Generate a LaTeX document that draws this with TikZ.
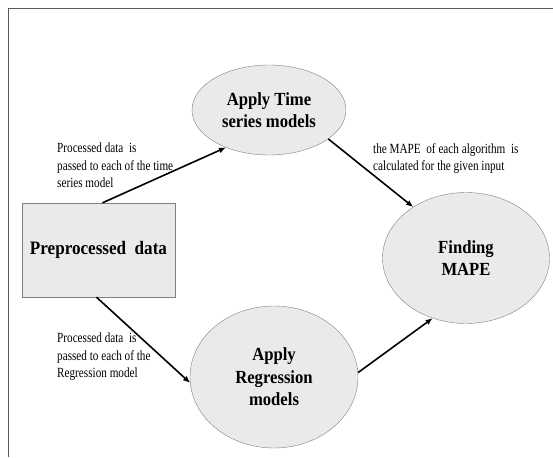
\documentclass[tikz,border=0pt]{standalone}
\usepackage{fontspec}
\usepackage{tikz}
\usetikzlibrary{shapes.geometric,arrows.meta,positioning}
\setmainfont{Liberation Serif}
\newfontfamily\notefont[FakeStretch=0.8]{Liberation Serif}
\newfontfamily\stepfont[FakeStretch=0.9]{Liberation Serif}
\definecolor{shapefill}{RGB}{232,234,236}
\definecolor{shapeline}{RGB}{128,128,128}
\definecolor{framegray}{RGB}{90,90,90}

\begin{document}
\begin{tikzpicture}[x=1pt, y=-1pt,
    proc/.style={rectangle, draw=shapeline, fill=shapefill, minimum width=153pt, minimum height=94pt, inner sep=0pt, font=\stepfont\bfseries\fontsize{19}{23}\selectfont},
    model/.style={ellipse, draw=shapeline, fill=shapefill, inner sep=0pt, align=center, font=\stepfont\bfseries\fontsize{18.5}{22.5}\selectfont},
    note/.style={anchor=north west, inner sep=0pt, align=left, font=\notefont\fontsize{14}{17.5}\selectfont},
    flow/.style={-{Latex[length=7pt,width=6pt]}, line width=1.6pt}
]
    \useasboundingbox (0,0) rectangle (553,457);
    % Frame
    \draw[framegray, line width=1pt] (8,457) -- (8,9) -- (553,9);

    % Process blocks
    \node[proc] (pre) at (98.5,250) {Preprocessed\ \ data};
    \node[model, minimum width=154pt, minimum height=90pt] (ts) at (269,110) {Apply Time\\series models};
    \node[model, minimum width=168pt, minimum height=142pt] (reg) at (274,377) {Apply\\Regression\\models};
    \node[model, minimum width=167pt, minimum height=131pt] (mape) at (466,258) {Finding\\MAPE};

    % Notes
    \node[note] (n1) at (57,143) {Processed data\ \ is\\passed to each of the time\\series model};
    \node[note] (n2) at (373,143) {the MAPE\ \ of each algorithm\ \ is\\calculated for the given input};
    \node[note] (n3) at (57,333) {Processed data\ \ is\\passed to each of the\\Regression model};

    % Connections
    \draw[flow] ([xshift=4pt]pre.north) -- (ts.221);
    \draw[flow] (ts.334) -- (mape.136);
    \draw[flow] ([xshift=-2pt]pre.south) -- (reg.184);
    \draw[flow] (reg.3) -- (mape.241);
\end{tikzpicture}
\end{document}
